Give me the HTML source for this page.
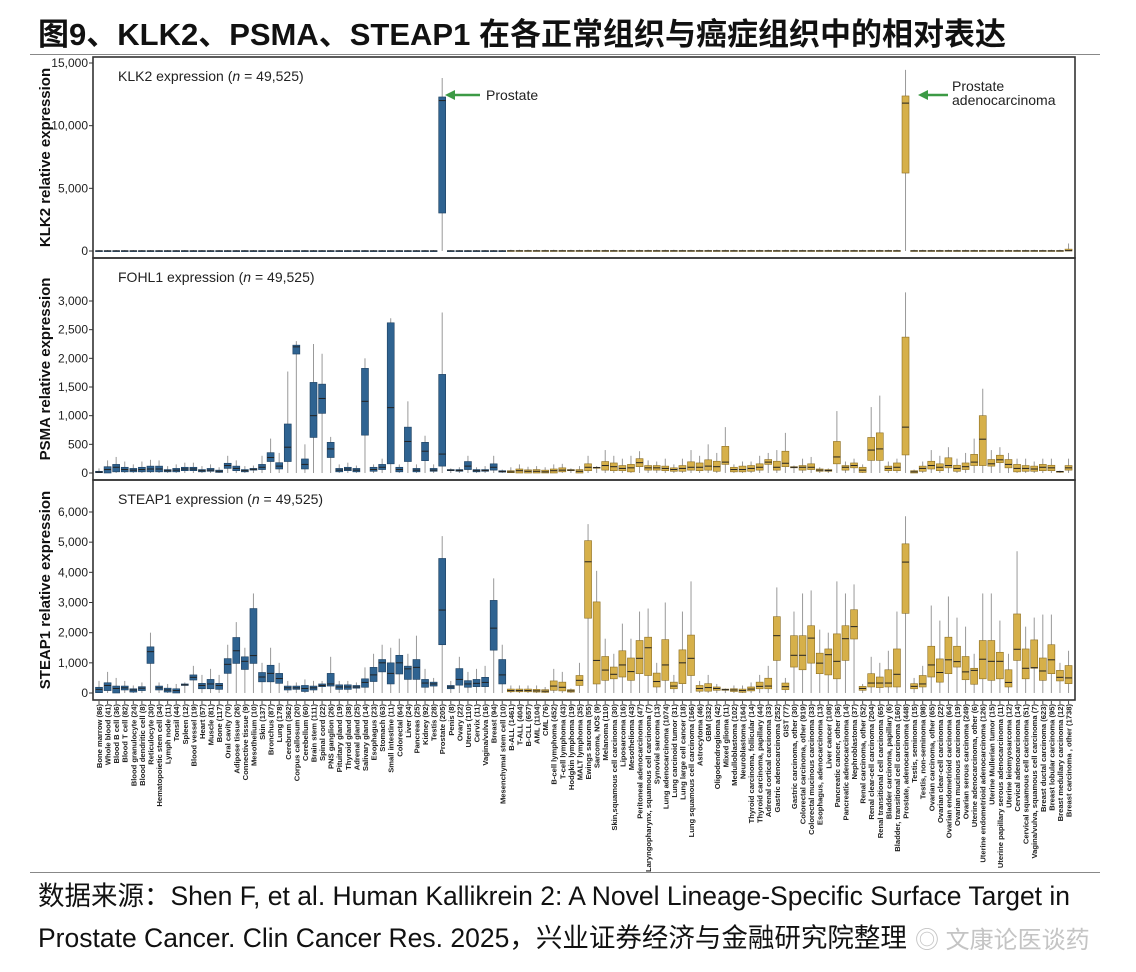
<!DOCTYPE html>
<html><head><meta charset="utf-8">
<style>
body{margin:0;background:#fff;width:1136px;height:972px;overflow:hidden;font-family:"Liberation Sans","Noto Sans CJK SC",sans-serif;}
#title{position:absolute;left:38px;top:9px;font-size:31px;font-weight:bold;color:#111;white-space:nowrap;}
#rule{position:absolute;left:30px;top:54px;width:1070px;height:1px;background:#888;}
#rule2{position:absolute;left:30px;top:872px;width:1070px;height:1px;background:#888;}
.foot{position:absolute;left:38px;font-size:26.5px;color:#111;white-space:nowrap;}
#wm{position:absolute;left:915px;top:920px;font-size:24px;color:#c4c4c4;white-space:nowrap;}
svg{position:absolute;left:0;top:0;}
</style></head><body>
<div id="title">图9、KLK2、PSMA、STEAP1 在各正常组织与癌症组织中的相对表达</div>
<div id="rule"></div>
<svg id="chart" width="1136" height="972"></svg>
<div id="rule2"></div>
<div class="foot" style="top:874px">数据来源：Shen F, et al. Human Kallikrein 2: A Novel Lineage-Specific Surface Target in</div>
<div class="foot" style="top:916px">Prostate Cancer. Clin Cancer Res. 2025，兴业证券经济与金融研究院整理</div>
<div id="wm">◎ 文康论医谈药</div>
<script>
const categories=["Bone marrow (86)","Whole blood (41)","Blood B cell (36)","Blood T cell (82)","Blood granulocyte (24)","Blood dendritic cell (8)","Reticulocyte (30)","Hematopoietic stem cell (34)","Lymph node (11)","Tonsil (44)","Spleen (12)","Blood vessel (19)","Heart (57)","Muscle (81)","Bone (117)","Oral cavity (70)","Adipose tissue (26)","Connective tissue (9)","Mesothelium (10)","Skin (137)","Bronchus (87)","Lung (178)","Cerebrum (362)","Corpus callosum (20)","Cerebellum (60)","Brain stem (111)","Spinal cord (22)","PNS ganglion (26)","Pituitary gland (19)","Thyroid gland (38)","Adrenal gland (25)","Salivary gland (14)","Esophagus (23)","Stomach (63)","Small intestine (11)","Colorectal (64)","Liver (24)","Pancreas (25)","Kidney (92)","Testis (28)","Prostate (205)","Penis (8)","Ovary (22)","Uterus (110)","Cervix (11)","Vagina/vulva (16)","Breast (94)","Mesenchymal stem cell (10)",
"B-ALL (1461)","T-ALL (404)","B-CLL (657)","AML (1104)","CML (76)","B-cell lymphoma (452)","T-cell lymphoma (43)","Hodgkin lymphoma (19)","MALT lymphoma (35)","Ewings sarcoma (55)","Sarcoma, NOS (9)","Melanoma (110)","Skin,squamous cell carcinoma (30)","Liposarcoma (16)","Mesothelioma (43)","Peritoneal adenocarcinoma (47)","Laryngopharynx, squamous cell carcinoma (7)","Synovial sarcoma (13)","Lung adenocarcinoma (1074)","Lung carcinoid tumor (31)","Lung large cell cancer (18)","Lung squamous cell carcinoma (166)","Astrocytoma (46)","GBM (332)","Oligodendroglioma (42)","Mixed glioma (11)","Medulloblastoma (102)","Neuroblastoma (164)","Thyroid carcinoma, follicular (14)","Thyroid carcinoma, papillary (44)","Adrenal cortical carcinoma (33)","Gastric adenocarcinoma (252)","GIST (77)","Gastric carcinoma, other (30)","Colorectal carcinoma, other (919)","Colorectal mucinous carcinoma (33)","Esophagus, adenocarcinoma (13)","Liver cancer (108)","Pancreatic cancer, other (36)","Pancreatic adenocarcinoma (14)","Nephroblastoma (37)","Renal carcinoma, other (52)","Renal clear-cell carcinoma (204)","Renal transitional cell carcinoma (65)","Bladder carcinoma, papillary (6)","Bladder, transitional cell carcinoma (160)","Prostate, adenocarcinoma (448)","Testis, seminoma (15)","Testis, non-seminoma (98)","Ovarian carcinoma, other (65)","Ovarian clear-cell carcinoma (22)","Ovarian endometrioid carcinoma (64)","Ovarian mucinous carcinoma (19)","Ovarian serous carcinoma (249)","Uterine adenocarcinoma, other (6)","Uterine endometrioid adenocarcinoma (126)","Uterine Mullerian tumor (15)","Uterine papillary serous adenocarcinoma (11)","Uterine leiomyosarcoma (12)","Cervical adenocarcinoma (14)","Cervical squamous cell carcinoma (51)","Vagina/vulva, squamous cell carcinoma (7)","Breast ductal carcinoma (623)","Breast lobular carcinoma (95)","Breast medullary carcinoma (12)","Breast carcinoma , other (1738)"];
const normalCount=48;
// [q1, median, q3, upper whisker]
const klkBox=[[0,10,30,80],[0,10,30,80],[0,10,30,80],[0,10,30,80],[0,10,30,80],[0,10,30,80],[0,10,30,80],[0,10,30,80],[0,10,30,80],[0,10,30,80],[0,10,30,80],[0,10,30,80],[0,10,30,80],[0,10,30,80],[0,10,30,80],[0,10,30,80],[0,10,30,80],[0,10,30,80],[0,10,30,80],[0,10,30,80],[0,10,30,80],[0,10,30,80],[0,10,30,80],[0,10,30,80],[0,10,30,80],[0,10,30,80],[0,10,30,80],[0,10,30,80],[0,10,30,80],[0,10,30,80],[0,10,30,80],[0,10,30,80],[0,10,30,80],[0,10,30,80],[0,10,30,80],[0,10,30,80],[0,10,30,80],[0,10,30,80],[0,10,30,80],[0,10,30,80],[3030,12000,12290,13800],[0,10,30,80],[0,10,30,80],[0,10,30,80],[0,10,30,80],[0,10,30,80],[0,10,30,80],[0,10,30,80],
[0,10,40,100],[0,10,40,100],[0,10,40,100],[0,10,40,100],[0,10,40,100],[0,10,40,100],[0,10,40,100],[0,10,40,100],[0,10,40,100],[0,10,40,100],[0,10,40,100],[0,10,40,100],[0,10,40,100],[0,10,40,100],[0,10,40,100],[0,10,40,100],[0,10,40,100],[0,10,40,100],[0,10,40,100],[0,10,40,100],[0,10,40,100],[0,10,40,100],[0,10,40,100],[0,10,40,100],[0,10,40,100],[0,10,40,100],[0,10,40,100],[0,10,40,100],[0,10,40,100],[0,10,40,100],[0,10,40,100],[0,10,40,100],[0,10,40,100],[0,10,40,100],[0,10,40,100],[0,10,40,100],[0,10,40,100],[0,10,40,100],[0,10,40,100],[0,10,40,100],[0,10,40,100],[0,10,40,100],[0,10,40,100],[0,10,40,100],[0,10,40,100],[0,10,40,100],[6220,11800,12370,14450],[0,10,40,100],[0,10,40,100],[0,10,40,100],[0,10,40,100],[0,10,40,100],[0,10,40,100],[0,10,40,100],[0,10,40,100],[0,10,40,100],[0,10,40,100],[0,10,40,100],[0,10,40,100],[0,10,40,100],[0,10,40,100],[0,10,40,100],[0,10,40,100],[0,10,40,100],[0,10,40,100],[0,30,150,600]];
const psmaBox=[[5,15,30,80],[0,60,110,220],[20,100,150,280],[20,60,100,200],[20,50,80,150],[20,60,100,200],[20,70,120,230],[20,70,120,220],[20,40,60,120],[20,50,80,150],[40,70,100,180],[40,70,100,180],[20,40,60,120],[30,50,80,150],[10,30,50,100],[80,130,170,300],[40,80,120,220],[20,40,60,120],[50,65,80,130],[60,100,150,300],[200,270,355,600],[70,120,180,350],[200,450,855,1770],[2075,2200,2230,2300],[70,150,245,500],[620,1000,1580,2250],[1040,1300,1550,2080],[270,420,535,630],[20,50,80,150],[40,70,100,180],[20,50,80,130],[660,1250,1825,2000],[30,60,100,150],[60,100,150,250],[160,1140,2620,2700],[20,60,100,150],[200,550,800,1250],[20,50,80,150],[215,380,535,650],[30,50,80,150],[120,330,1720,2800],[40,50,60,80],[30,45,60,100],[60,120,200,300],[20,40,60,100],[30,45,60,120],[50,100,160,300],[15,25,40,60],
[5,20,40,100],[0,40,70,150],[0,30,55,110],[0,30,60,120],[0,20,50,100],[0,40,70,150],[20,50,90,160],[40,50,60,80],[0,30,60,120],[40,100,160,300],[90,95,100,120],[50,130,200,400],[40,110,175,300],[40,80,130,250],[20,90,150,300],[110,180,250,380],[50,90,130,220],[50,90,130,200],[40,80,120,250],[30,60,90,150],[30,80,130,250],[50,100,195,400],[40,100,175,300],[50,120,230,500],[30,110,205,350],[150,190,465,800],[20,60,100,150],[20,60,120,200],[30,80,130,200],[50,100,160,300],[150,190,235,350],[50,100,205,400],[110,170,380,700],[90,100,110,130],[50,100,130,250],[60,100,160,280],[30,50,70,100],[30,45,60,80],[160,280,550,1080],[50,100,130,200],[90,130,175,250],[10,50,100,150],[220,400,620,1150],[220,420,700,1350],[40,80,120,200],[40,100,175,250],[315,800,2370,3150],[0,20,40,60],[30,80,120,200],[70,130,205,400],[40,100,160,300],[90,130,265,450],[30,80,135,250],[60,110,175,350],[130,190,325,600],[130,590,1000,1470],[120,160,235,400],[180,230,310,450],[90,150,235,350],[20,80,150,250],[30,80,130,250],[30,70,120,200],[40,100,150,250],[40,90,135,250],[20,25,30,40],[50,90,130,250]];
const steapBox=[[10,120,190,400],[80,250,340,700],[0,150,230,500],[100,170,230,400],[30,100,140,250],[80,160,210,350],[980,1370,1530,2000],[100,170,230,350],[30,100,160,300],[0,80,140,300],[250,270,300,350],[430,520,600,900],[140,250,320,600],[140,300,450,800],[120,250,320,600],[650,950,1140,1600],[980,1400,1840,2350],[780,1050,1200,1500],[980,1240,2800,3300],[370,530,680,1000],[370,650,920,1500],[320,480,650,1000],[100,170,230,400],[120,170,230,350],[50,150,250,450],[100,170,230,400],[210,250,300,400],[230,300,650,1200],[120,200,270,400],[120,200,270,400],[160,200,250,350],[190,350,470,850],[380,600,850,1300],[700,1000,1110,1600],[300,650,1000,1500],[630,1000,1250,1800],[450,800,890,1300],[450,850,1110,1900],[190,330,450,800],[230,300,360,500],[1600,2750,4460,5200],[140,200,250,400],[260,450,810,1200],[190,300,410,700],[210,320,450,800],[210,350,520,900],[1420,2150,3070,3800],[300,600,1110,1600],
[40,80,130,250],[40,80,130,250],[40,80,130,250],[30,70,120,250],[20,60,110,200],[90,230,400,800],[70,190,360,700],[30,70,110,150],[250,420,580,1000],[2480,4350,5050,5600],[300,1080,3020,4050],[420,760,1210,1800],[470,620,860,1300],[530,930,1400,2300],[420,710,1160,1800],[640,1150,1740,2700],[580,1500,1850,2800],[200,380,660,1000],[420,930,1770,3000],[140,230,360,600],[310,1000,1430,2700],[580,1150,1920,3700],[60,150,250,400],[60,180,310,600],[90,150,200,300],[90,110,130,150],[50,100,140,250],[20,80,130,250],[70,130,200,350],[140,220,360,600],[140,230,490,900],[1080,1900,2530,3500],[110,210,330,500],[860,1250,1900,2700],[770,1250,1900,3300],[990,1820,2230,3400],[640,990,1320,2100],[600,1270,1460,2000],[470,1050,1960,3700],[1080,1800,2230,3300],[1790,2200,2760,3600],[90,150,220,300],[200,330,640,1200],[180,330,530,1000],[200,330,770,1400],[200,620,1460,2700],[2640,4340,4945,5860],[140,220,310,500],[200,300,580,900],[530,930,1550,2900],[360,680,1130,2400],[640,1100,1850,3200],[860,1040,1550,2500],[440,700,1210,2200],[290,750,820,1300],[470,1120,1740,3300],[420,1050,1740,3300],[470,1050,1350,2400],[200,350,770,1300],[1080,1450,2620,4700],[470,820,1460,2200],[820,840,1760,2500],[420,730,1160,2600],[640,1100,1600,2600],[400,520,750,1000],[310,500,910,1400]];
const klkTicks=[0,5000,10000,15000];
const psmaTicks=[0,500,1000,1500,2000,2500,3000];
const steapTicks=[0,1000,2000,3000,4000,5000,6000];

const NS="http://www.w3.org/2000/svg";
const svg=document.getElementById('chart');
function mk(tag,attrs,parent){const e=document.createElementNS(NS,tag);for(const k in attrs)e.setAttribute(k,attrs[k]);(parent||svg).appendChild(e);return e;}
const X0=93,X1=1075;
const xScale=i=>99+i*8.58;
const panels=[
 {name:'klk2',top:57,bottom:258,zeroY:251,maxV:15000,maxY:63,data:klkBox,ticks:klkTicks,title:'KLK2 expression',ytitle:'KLK2 relative expression'},
 {name:'psma',top:258,bottom:480,zeroY:473,maxV:3000,maxY:301,data:psmaBox,ticks:psmaTicks,title:'FOHL1 expression',ytitle:'PSMA relative expression'},
 {name:'steap1',top:480,bottom:700,zeroY:693,maxV:6000,maxY:512,data:steapBox,ticks:steapTicks,title:'STEAP1 expression',ytitle:'STEAP1 relative expression'}];
panels.forEach(p=>{
 const y=v=>p.zeroY-(v/p.maxV)*(p.zeroY-p.maxY);
 const g=mk('g',{});
 
 
 const fr=mk('rect',{x:X0,y:p.top,width:X1-X0,height:p.bottom-p.top,fill:'none',stroke:'#333','stroke-width':1.6},g);
 
 
 p.ticks.forEach(t=>{
  mk('line',{x1:X0-4,x2:X0,y1:y(t),y2:y(t),stroke:'#333'},g);
  const tl=mk('text',{x:X0-5,y:y(t)+4,'text-anchor':'end','font-size':12,fill:'#222'},g);
  tl.textContent=t.toLocaleString('en-US');
  
  
 });
 const yt=mk('text',{x:0,y:0,transform:`translate(50,${(p.top+p.bottom)/2}) rotate(-90)`,'text-anchor':'middle','font-size':15,'font-weight':'bold',fill:'#111'},g);
 yt.textContent=p.ytitle;
 
 
 const pt=mk('text',{x:118,y:p.top+24,'font-size':14,fill:'#222'},g);
 pt.innerHTML=p.title+' (<tspan font-style="italic">n</tspan> = 49,525)';
 
 
 p.data.forEach((d,i)=>{
  const cx=xScale(i),w=7,normal=i<normalCount;
  const fill=normal?'#2f6391':'#d6b04a',st=normal?'#1d3f5f':'#8c6e22';
  const bg=mk('g',{},g);
  
  
  mk('line',{x1:cx,x2:cx,y1:y(0),y2:y(d[3]),stroke:'#999','stroke-width':1},bg);
  const h=Math.max(1,y(d[0])-y(d[2]));
  mk('rect',{x:cx-w/2,y:y(d[2]),width:w,height:h,fill:fill,stroke:st,'stroke-width':0.6},bg);
  mk('line',{x1:cx-w/2,x2:cx+w/2,y1:y(d[1]),y2:y(d[1]),stroke:'#222','stroke-width':1},bg);
 });
});
categories.forEach((c,i)=>{
 const t=mk('text',{x:0,y:0,transform:`translate(${xScale(i)+3},704) rotate(-90)`,'text-anchor':'end','font-size':7.6,'font-weight':'bold',fill:'#222'});
 t.textContent=c;
 
 
 mk('line',{x1:xScale(i),x2:xScale(i),y1:700,y2:704,stroke:'#555'});
});
function arrow(x1,x2,yy,name){const g=mk('g',{});
 
 
 mk('line',{x1:x1,x2:x2+6,y1:yy,y2:yy,stroke:'#3c9a45','stroke-width':2.5},g);
 mk('polygon',{points:`${x2},${yy} ${x2+10},${yy-5} ${x2+10},${yy+5}`,fill:'#3c9a45'},g);}
arrow(480,445,95,'prostate-arrow');
arrow(948,918,95,'prostate-adenocarcinoma-arrow');
const a1=mk('text',{x:486,y:100,'font-size':14,fill:'#222'});a1.textContent='Prostate';


const a2=mk('text',{x:952,y:91,'font-size':14,fill:'#222'});a2.textContent='Prostate';


const a3=mk('text',{x:952,y:105,'font-size':14,fill:'#222'});a3.textContent='adenocarcinoma';


</script>
</body></html>
